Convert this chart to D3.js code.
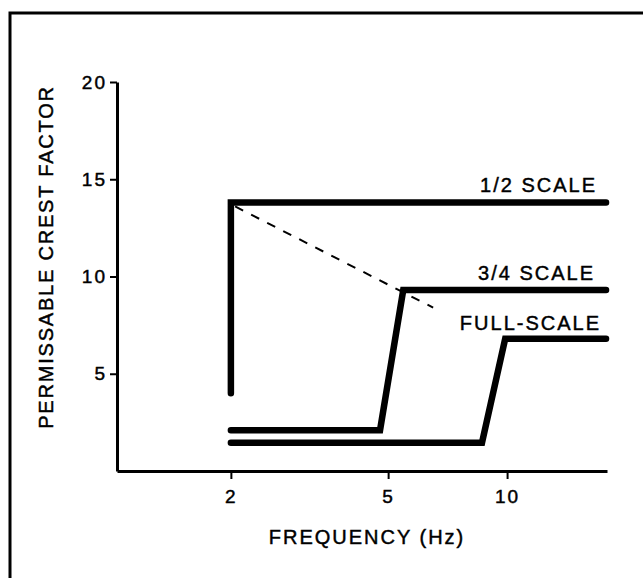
<!DOCTYPE html>
<html>
<head>
<meta charset="utf-8">
<script src="https://cdn.jsdelivr.net/npm/d3@7"></script>
<style>
  html, body { margin: 0; padding: 0; background: #fff; }
  svg { display: block; font-family: "Liberation Sans", Arial, Helvetica, sans-serif; }
  svg text { fill: #000; stroke: #000; stroke-width: 0.45px; }
</style>
</head>
<body>
<div id="chart"></div>
<script>
// x tick values (Hz, log axis) and y tick values
const xTicks = [2, 5, 10];
const yTicks = [5, 10, 15, 20];

// curves: [frequency Hz, crest factor]
const halfScale = [[2, 4.0], [2, 13.8], [17.8, 13.8]];
const threeQuarterScale = [[2, 2.1], [4.77, 2.1], [5.46, 9.3], [17.8, 9.3]];
const fullScale = [[2, 1.45], [8.64, 1.45], [9.89, 6.8], [17.8, 6.8]];
const dashedLimit = [[2.05, 13.6], [6.5, 8.4]];

const curveLabels = ["1/2 SCALE", "3/4 SCALE", "FULL-SCALE"];

const W = 643, H = 578;

const svg = d3.select("#chart")
  .append("svg")
  .attr("width", W)
  .attr("height", H);

// scanned frame: top and left edges only
svg.append("path")
  .attr("d", "M10,578 V13 H643")
  .attr("fill", "none")
  .attr("stroke", "#000")
  .attr("stroke-width", 3);

const x = d3.scaleLog()
  .domain([1.03, 17.9])
  .range([117, 607]);

const y = d3.scaleLinear()
  .domain([0, 20])
  .range([471, 82]);

/* axes */
const xAxis = svg.append("g")
  .attr("transform", `translate(0,${y(0)})`)
  .call(d3.axisBottom(x)
    .tickValues(xTicks)
    .tickFormat(d3.format("d"))
    .tickSizeInner(8)
    .tickSizeOuter(0)
    .tickPadding(11));

const yAxis = svg.append("g")
  .attr("transform", `translate(${x.range()[0]},0)`)
  .call(d3.axisLeft(y)
    .tickValues(yTicks)
    .tickSizeInner(7)
    .tickSizeOuter(0)
    .tickPadding(3));

[xAxis, yAxis].forEach(a => {
  a.select(".domain").attr("stroke", "#000").attr("stroke-width", 3);
  a.selectAll(".tick line").attr("stroke", "#000").attr("stroke-width", 2);
  a.selectAll(".tick text")
    .style("font-size", "19px")
    .style("letter-spacing", "2px");
});

// axis titles
svg.append("text")
  .attr("x", 367)
  .attr("y", 544)
  .attr("text-anchor", "middle")
  .style("font-size", "20px")
  .style("letter-spacing", "2px")
  .text("FREQUENCY (Hz)");

svg.append("text")
  .attr("transform", "translate(53,257) rotate(-90)")
  .attr("text-anchor", "middle")
  .style("font-size", "20px")
  .style("letter-spacing", "1.8px")
  .text("PERMISSABLE CREST FACTOR");

/* curves */
const line = d3.line()
  .x(d => x(d[0]))
  .y(d => y(d[1]));

[halfScale, threeQuarterScale, fullScale].forEach(s => {
  svg.append("path")
    .datum(s)
    .attr("d", line)
    .attr("fill", "none")
    .attr("stroke", "#000")
    .attr("stroke-width", 6.5)
    .attr("stroke-linejoin", "miter")
    .attr("stroke-linecap", "round");
});

svg.append("path")
  .datum(dashedLimit)
  .attr("d", line)
  .attr("fill", "none")
  .attr("stroke", "#000")
  .attr("stroke-width", 2)
  .attr("stroke-dasharray", "9,9");

// curve labels, right aligned above each flat end
const labelPos = [
  {v: 13.8, dy: -11, right: 597},
  {v: 9.3, dy: -10, right: 595},
  {v: 6.8, dy: -10, right: 601}
];

svg.selectAll("text.curve")
  .data(curveLabels)
  .enter().append("text")
  .attr("class", "curve")
  .attr("x", (d, i) => labelPos[i].right)
  .attr("y", (d, i) => i === 2 ? 330 : y(labelPos[i].v) + labelPos[i].dy)
  .attr("text-anchor", "end")
  .style("font-size", "20px")
  .style("letter-spacing", "2px")
  .text(d => d);
</script>
</body>
</html>
